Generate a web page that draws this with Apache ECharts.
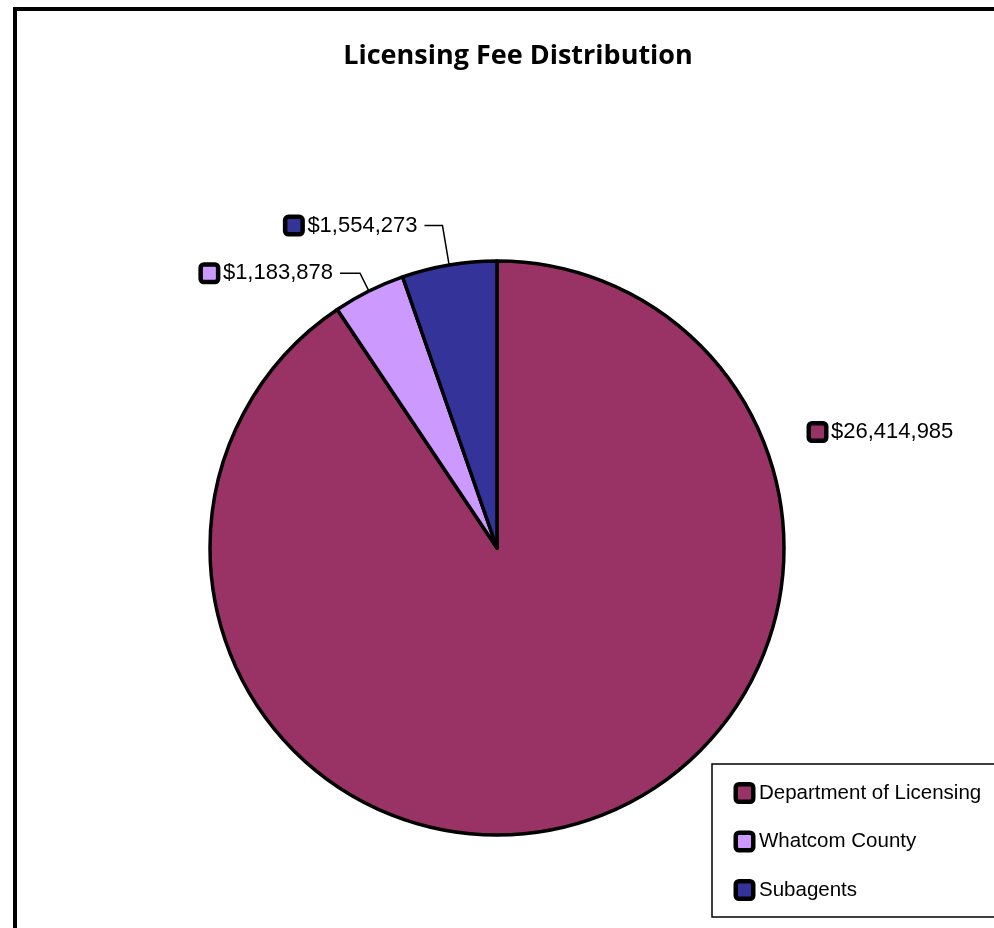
<!DOCTYPE html>
<html lang="en">
<head>
  <meta charset="UTF-8">
  <title>Licensing Fee Distribution</title>
  <style>
    body { margin: 0; padding: 0; background: #fff; overflow: hidden; }
    #chart { width: 994px; height: 928px; }
  </style>
  <script src="https://cdn.jsdelivr.net/npm/echarts@6/dist/echarts.min.js"></script>
</head>
<body>
  <div id="chart"></div>
  <script>
    // Data
    const categories = ['Department of Licensing', 'Whatcom County', 'Subagents'];
    const amounts = [26414985, 1183878, 1554273];
    const colors = ['#993366', '#CC99FF', '#333399'];

    const labelFont = 'Liberation Sans, Arial, sans-serif';

    // key squares (black framed) used both in the data labels and the legend
    function keyStyles(fontSize, pad) {
      const r = { v: { fontSize: fontSize, color: '#000', fontFamily: labelFont, padding: [0, 0, 0, pad] } };
      colors.forEach((c, i) => {
        r['s' + i] = {
          width: 13, height: 13, backgroundColor: c,
          borderColor: '#000', borderWidth: 4.5, borderRadius: 1, verticalAlign: 'middle'
        };
      });
      return r;
    }

    // per-slice leader line lengths (Dept label sits off to the right, no line)
    const lineLen = [[0, 0], [20, 20], [40, 18]];

    const chart = echarts.init(document.getElementById('chart'));
    const option = {
      animation: false,
      title: {
        text: 'Licensing Fee Distribution',
        left: 513,
        top: 38,
        textAlign: 'center',
        textStyle: { fontFamily: 'Open Sans, sans-serif', fontWeight: 'bold', fontSize: 27, color: '#000' }
      },
      legend: {
        orient: 'vertical',
        left: 712,
        top: 764,
        data: categories,
        icon: 'none',
        itemWidth: 0,
        itemHeight: 0,
        itemGap: 26.5,
        selectedMode: false,
        padding: [18, 80, 16, 21],
        borderColor: '#000',
        borderWidth: 1.5,
        formatter: name => '{s' + categories.indexOf(name) + '|}{v|' + name + '}',
        textStyle: { lineHeight: 20, rich: keyStyles(20.5, 8) }
      },
      graphic: [{
        type: 'rect',
        shape: { x: 15, y: 9, width: 1100, height: 1100 },
        style: { fill: 'none', stroke: '#000', lineWidth: 4 },
        silent: true
      }],
      series: [{
        type: 'pie',
        center: [497, 548],
        radius: [0, 287],
        startAngle: 90,
        clockwise: true,
        emphasis: { disabled: true },
        itemStyle: { borderColor: '#000', borderWidth: 3.5 },
        label: {
          show: true,
          position: 'outside',
          distanceToLabelLine: 7,
          rich: keyStyles(22, 7),
          formatter: p => '{s' + p.dataIndex + '|}{v|$' + p.value.toLocaleString('en-US') + '}'
        },
        labelLine: { show: true, lineStyle: { color: '#000', width: 1.5 } },
        labelLayout: function (params) {
          if (params.dataIndex === 0) {
            return { x: 811, y: 432, align: 'left', verticalAlign: 'middle' };
          }
        },
        data: categories.map((name, i) => ({
          name: name,
          value: amounts[i],
          itemStyle: { color: colors[i] },
          labelLine: { show: i !== 0, length: lineLen[i][0], length2: lineLen[i][1] }
        }))
      }]
    };
    chart.setOption(option);
  </script>
</body>
</html>
